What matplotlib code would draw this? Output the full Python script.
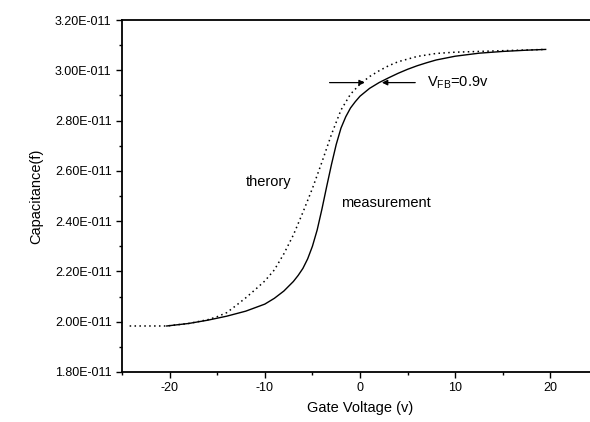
import matplotlib
matplotlib.use("Agg")
import matplotlib.pyplot as plt
from matplotlib.ticker import FixedLocator, FuncFormatter
import numpy as np

plt.rcParams["font.family"] = ["Liberation Sans", "DejaVu Sans"]
plt.rcParams["axes.unicode_minus"] = False

# ---- data (capacitance in units of 1e-11 F)
meas_v = [-20.3, -18, -16, -14, -12, -10, -9, -8, -7, -6.5, -6, -5.5, -5, -4.5, -4,
          -3.5, -3, -2.5, -2, -1.5, -1, -0.5, 0, 1, 2, 3, 4, 5, 6, 7, 8, 10,
          12.5, 15, 17.5, 19.5]
meas_c = [1.983, 1.993, 2.006, 2.022, 2.042, 2.070, 2.093, 2.122, 2.160, 2.184,
          2.212, 2.250, 2.300, 2.365, 2.448, 2.538, 2.625, 2.705, 2.770, 2.815,
          2.850, 2.875, 2.897, 2.928, 2.951, 2.970, 2.988, 3.004, 3.018, 3.030,
          3.041, 3.056, 3.068, 3.075, 3.080, 3.083]

theo_v = [-24.2, -20.3, -18, -16, -15, -14, -13, -12, -11, -10, -9, -8, -7, -6,
          -5, -4, -3, -2, -1, 0, 1, 2, 3, 4, 6, 8, 10, 12.5, 15, 19.5]
theo_c = [1.983, 1.983, 1.993, 2.008, 2.020, 2.036, 2.065, 2.095, 2.128, 2.162,
          2.206, 2.270, 2.345, 2.435, 2.530, 2.635, 2.745, 2.842, 2.905, 2.945,
          2.975, 2.998, 3.018, 3.034, 3.055, 3.067, 3.072, 3.075, 3.078, 3.083]

x_ticks = [-20, -10, 0, 10, 20]
x_minor = [-25, -15, -5, 5, 15, 25]
y_ticks = [1.8, 2.0, 2.2, 2.4, 2.6, 2.8, 3.0, 3.2]
y_minor = [1.9, 2.1, 2.3, 2.5, 2.7, 2.9, 3.1]

SCALE = 1e-11


def main():
    fig = plt.figure(figsize=(5.9, 4.22), dpi=100)
    ax = fig.add_axes([0.2068, 0.1185, 0.8068, 0.8341])

    ax.plot(theo_v, np.array(theo_c) * SCALE, color="black", linestyle=(0, (1, 2.2)),
            linewidth=1.1)
    ax.plot(meas_v, np.array(meas_c) * SCALE, color="black", linewidth=1.0)

    ax.set_xlim(-25, 25)
    ax.set_ylim(1.8 * SCALE, 3.2 * SCALE)
    ax.xaxis.set_major_locator(FixedLocator(x_ticks))
    ax.xaxis.set_minor_locator(FixedLocator(x_minor))
    ax.yaxis.set_major_locator(FixedLocator([t * SCALE for t in y_ticks]))
    ax.yaxis.set_minor_locator(FixedLocator([t * SCALE for t in y_minor]))
    ax.yaxis.set_major_formatter(FuncFormatter(lambda v, p: f"{v / SCALE:.2f}E-011"))

    ax.tick_params(which="major", direction="out", length=4, width=1.0, labelsize=9)
    ax.tick_params(which="minor", direction="out", length=2.5, width=1.0)
    for side in ("left", "bottom", "top"):
        ax.spines[side].set_linewidth(1.3)
    ax.spines["right"].set_visible(False)

    ax.set_xlabel("Gate Voltage (v)", fontsize=10.5, labelpad=5)
    ax.set_ylabel("Capacitance(f)", fontsize=10.5, labelpad=8)

    # ---- annotations
    y_arrow = 2.951 * SCALE
    ax.annotate("", xy=(0.5, y_arrow), xytext=(-3.2, y_arrow),
                arrowprops=dict(arrowstyle="-|>", color="black", lw=0.9,
                                mutation_scale=8, shrinkA=0, shrinkB=0))
    ax.annotate("", xy=(2.3, y_arrow), xytext=(5.8, y_arrow),
                arrowprops=dict(arrowstyle="-|>", color="black", lw=0.9,
                                mutation_scale=8, shrinkA=0, shrinkB=0))
    ax.text(7.0, y_arrow, r"V$_{\mathregular{FB}}$=0.9v", fontsize=10.5,
            va="center", ha="left")
    ax.text(-9.6, 2.557 * SCALE, "therory", fontsize=10.5, va="center", ha="center")
    ax.text(-2.0, 2.471 * SCALE, "measurement", fontsize=10.5, va="center", ha="left")

    fig.savefig("out.png", dpi=100)
    plt.close(fig)


if __name__ == "__main__":
    main()
